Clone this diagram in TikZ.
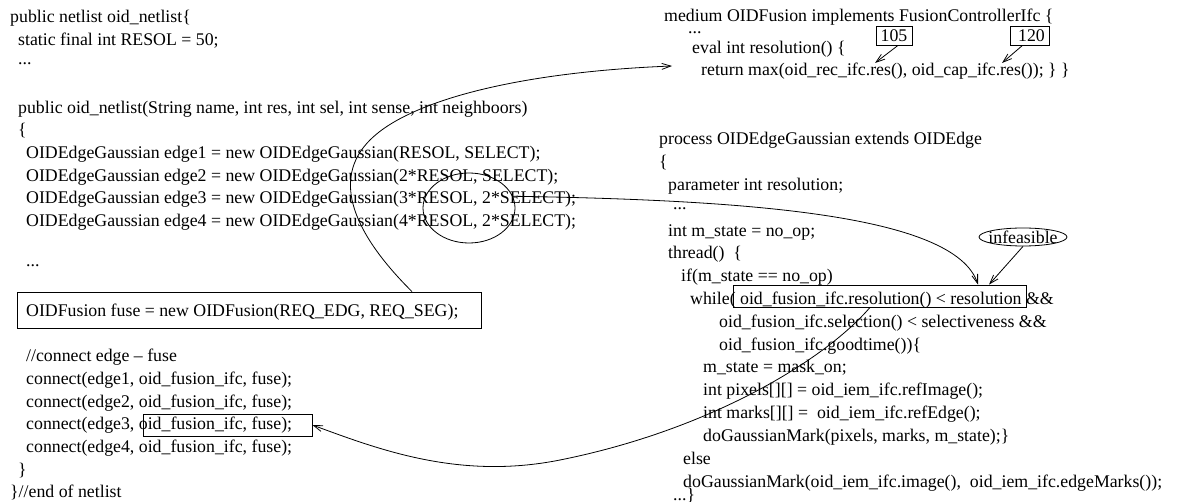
\documentclass[tikz,border=0pt]{standalone}
\usepackage{fontspec}
\setmainfont{Liberation Serif}
\usetikzlibrary{arrows.meta,shapes.geometric}
\newcommand\codefont{\fontsize{17.8}{22}\selectfont}
\begin{document}
\begin{tikzpicture}[x=1pt,y=-1pt,
  txt/.style={anchor=base west,inner sep=0pt,font=\codefont},
  boxst/.style={draw,line width=0.8pt,inner sep=0pt,font=\codefont},
  conn/.style={draw,line width=0.8pt,-{Straight Barb[length=9pt,width=6pt]}},
]
\useasboundingbox (0,0) rectangle (1186,502);
% ---------------- left column ----------------
\node[txt] (l0) at (10,23) {public netlist oid\_netlist\{};
\node[txt] (l1) at (18,45.6) {static final int RESOL = 50;};
\node[txt] (l2) at (18,65) {...};
\node[txt] (l4) at (18,113.4) {public oid\_netlist(String name, int res, int sel, int sense, int neighboors)};
\node[txt] (l5) at (18,136) {\{};
\node[txt] (l6) at (26,158.6) {OIDEdgeGaussian edge1 = new OIDEdgeGaussian(RESOL, SELECT);};
\node[txt] (l7) at (26,181.2) {OIDEdgeGaussian edge2 = new OIDEdgeGaussian(2*RESOL, SELECT);};
\node[txt] (l8) at (26,203.8) {OIDEdgeGaussian edge3 = new OIDEdgeGaussian(3*RESOL, 2*SELECT);};
\node[txt] (l9) at (26,226.4) {OIDEdgeGaussian edge4 = new OIDEdgeGaussian(4*RESOL, 2*SELECT);};
\node[txt] (l11) at (26,267) {...};
\node[boxst,minimum width=464pt,minimum height=36pt] (fusebox) at (249,310) {};
\node[txt] (l13) at (26,316.8) {OIDFusion fuse = new OIDFusion(REQ\_EDG, REQ\_SEG);};
\node[txt] (l15) at (26,362) {//connect edge -- fuse};
\node[txt] (l16) at (26,384.6) {connect(edge1, oid\_fusion\_ifc, fuse);};
\node[txt] (l17) at (26,407.2) {connect(edge2, oid\_fusion\_ifc, fuse);};
\node[txt] (l18) at (26,429.8) {connect(edge3, oid\_fusion\_ifc, fuse);};
\node[txt] (l19) at (26,452.4) {connect(edge4, oid\_fusion\_ifc, fuse);};
\node[boxst,minimum width=169pt,minimum height=22pt] (cbox) at (227.5,425) {};
\node[txt] (l20) at (18,475) {\}};
\node[txt] (l21) at (10,497.6) {\}//end of netlist};
\node[draw,ellipse,line width=0.8pt,inner sep=0pt,minimum width=92pt,minimum height=70pt] (circ) at (469,208) {};
% ---------------- right top ----------------
\node[txt] (r1) at (664,22) {medium OIDFusion implements FusionControllerIfc \{};
\node[txt] (r2) at (688,34) {...};
\node[txt] (r3) at (692,54) {eval int resolution() \{};
\node[txt] (r4) at (701,76) {return max(oid\_rec\_ifc.res(), oid\_cap\_ifc.res()); \} \}};
\node[boxst,minimum width=36pt,minimum height=19pt] (b105) at (894,35.5) {105};
\node[boxst,minimum width=39pt,minimum height=19pt] (b120) at (1029.5,35.5) {\hspace*{4pt}120};
\coordinate (t105) at (875,63);
\coordinate (t120) at (1002,63);
\coordinate (tipA) at (672,66);
% ---------------- right bottom ----------------
\node[txt] (p0) at (659,145) {process OIDEdgeGaussian extends OIDEdge};
\node[txt] (p1) at (659,167.8) {\{};
\node[txt] (p2) at (668,190.6) {parameter int resolution;};
\node[txt] (p3) at (673,210) {...};
\node[txt] (p4) at (668,236.2) {int m\_state = no\_op;};
\node[txt] (p5) at (668,259) {thread()\ \ \{};
\node[txt] (p6) at (681,281.8) {if(m\_state == no\_op)};
\node[txt] (p7) at (690,304.6) {while(\ oid\_fusion\_ifc.resolution() < resolution \&\&};
\node[txt] (p8) at (719,327.4) {oid\_fusion\_ifc.selection() < selectiveness \&\&};
\node[txt] (p9) at (719,350.2) {oid\_fusion\_ifc.goodtime())\{};
\node[txt] (p10) at (703,373) {m\_state = mask\_on;};
\node[txt] (p11) at (703,395.8) {int pixels[][] = oid\_iem\_ifc.refImage();};
\node[txt] (p12) at (703,418.6) {int marks[][] =\ \ oid\_iem\_ifc.refEdge();};
\node[txt] (p13) at (703,441.4) {doGaussianMark(pixels, marks, m\_state);\}};
\node[txt] (p14) at (683,464.2) {else};
\node[txt] (p15) at (683,487) {doGaussianMark(oid\_iem\_ifc.image(),\ \ oid\_iem\_ifc.edgeMarks());};
\node[txt] (p16) at (673,500) {...\}};
\node[boxst,minimum width=293pt,minimum height=22pt] (whbox) at (879.5,296) {};
\node[draw,ellipse,line width=0.8pt,inner sep=0pt,minimum width=88pt,minimum height=18pt,font=\codefont] (inf) at (1023,237) {\makebox[0pt]{infeasible}};
% ---------------- connectors ----------------
\draw[conn] ([xshift=4pt]b105.south) -- (t105);
\draw[conn] ([xshift=-7pt]b120.south) -- (t120);
\draw[conn] ([xshift=163pt]fusebox.north) .. controls (355,235) and (330,180) .. (370,140) .. controls (410,100) and (520,72) .. (tipA);
\draw[conn] (circ.15) .. controls (750,200) and (955,215) .. ([xshift=98.5pt]whbox.north);
\draw[conn] ([xshift=-9.5pt]whbox.south) .. controls (825,360) and (710,430) .. (560,460) .. controls (460,480) and (380,450) .. (cbox.east);
\draw[conn] (inf.south) -- ([xshift=109.5pt]whbox.north);
\end{tikzpicture}
\end{document}
